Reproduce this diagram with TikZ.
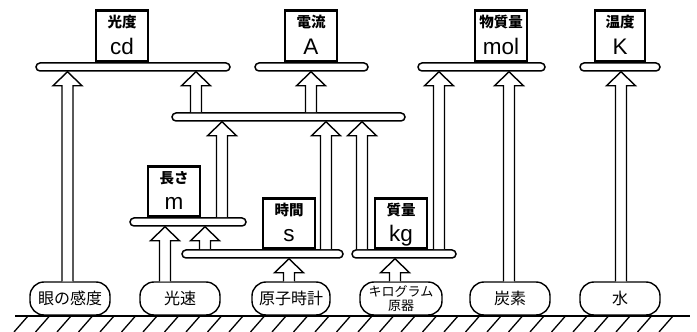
\documentclass[tikz,border=0pt]{standalone}
\usepackage{fontspec}
\setmainfont{Liberation Sans}
\newfontfamily\jp{Noto Sans CJK JP}
\usetikzlibrary{calc}
\tikzset{
  shelf/.style={draw, line width=1.5pt, fill=white, rectangle, rounded corners=4pt, minimum height=8pt, inner sep=0pt},
  unitbox/.style={draw, line width=2.8pt, fill=white, rectangle, minimum width=52pt, minimum height=51pt, inner sep=0pt, anchor=south},
  boxlabel/.style={font=\jp\bfseries\fontsize{14.5}{14.5}\selectfont, inner sep=0pt, anchor=base},
  unitlabel/.style={font=\fontsize{22.5}{22.5}\selectfont, inner sep=0pt, anchor=base},
  base/.style={draw, line width=1.4pt, fill=white, rectangle, rounded corners=14pt, minimum height=33pt, inner sep=0pt, font=\jp\fontsize{16}{16}\selectfont, align=center},
  harr/.style={draw, line width=1.4pt, fill=white, line join=miter},
  ground/.style={line width=1.8pt},
  hatch/.style={line width=1.3pt}
}
\newcommand\hup[3]{\draw[harr] let \p1=(#2.north), \p2=(#3.south) in
  (#1pt-5.5pt,\y1) -- (#1pt-5.5pt,\y2-14pt) -- (#1pt-14.5pt,\y2-14pt) -- (#1pt,\y2)
  -- (#1pt+14.5pt,\y2-14pt) -- (#1pt+5.5pt,\y2-14pt) -- (#1pt+5.5pt,\y1);}
\begin{document}
\begin{tikzpicture}[x=1pt,y=1pt]
\useasboundingbox (0,0) rectangle (697,332);
% ground
\draw[ground] (15,16) -- (690,16);
\foreach \k in {0,...,30} { \draw[hatch] (28+21.5*\k,16) -- (14+21.5*\k,0); }
% bottom bases
\node[base, minimum width=80pt] (eye) at (70,33.5) {眼の感度};
\node[base, minimum width=80pt] (light) at (180,33.5) {光速};
\node[base, minimum width=78pt] (atom) at (291,33.5) {原子時計};
\node[base, minimum width=82pt, font=\jp\fontsize{13}{14}\selectfont] (kgp) at (401,33.5) {キログラム\\原器};
\node[base, minimum width=80pt] (carbon) at (510,33.5) {炭素};
\node[base, minimum width=80pt] (water) at (620,33.5) {水};
% shelves
\node[shelf, minimum width=194pt] (Scd) at (133,265) {};
\node[shelf, minimum width=113pt] (SA) at (311.5,265) {};
\node[shelf, minimum width=127pt] (Smol) at (481.5,265) {};
\node[shelf, minimum width=80pt] (SK) at (620,265) {};
\node[shelf, minimum width=233pt] (Smid) at (288.5,215) {};
\node[shelf, minimum width=116pt] (Sm) at (188,110) {};
\node[shelf, minimum width=161pt] (Ss) at (262.5,78) {};
\node[shelf, minimum width=104pt] (Skg) at (404,78) {};
% unit boxes
\node[unitbox] (Bcd) at (122,269) {};
\node[unitbox] (BA) at (311,269) {};
\node[unitbox] (Bmol) at (501,269) {};
\node[unitbox, minimum width=50pt] (BK) at (620,269) {};
\node[unitbox, minimum height=50pt] (Bm) at (174,114) {};
\node[unitbox, minimum height=50pt] (Bs) at (289,82) {};
\node[unitbox, minimum height=50pt] (Bkg) at (401,82) {};
% labels
\foreach \b/\l/\u in {Bcd/光度/cd, BA/電流/A, Bmol/物質量/mol, BK/温度/K, Bm/長さ/m, Bs/時間/s, Bkg/質量/kg} {
  \node[boxlabel] (\b-l) at ([yshift=-18.5pt]\b.north) {\l};
  \node[unitlabel] (\b-u) at ([yshift=8pt]\b.south) {\u};
}
% arrows
\hup{67.5}{eye}{Scd}
\hup{196}{Smid}{Scd}
\hup{311}{Smid}{SA}
\hup{222}{Sm}{Smid}
\hup{326}{Ss}{Smid}
\hup{362}{Skg}{Smid}
\hup{439}{Skg}{Smol}
\hup{509}{carbon}{Smol}
\hup{621}{water}{SK}
\hup{165}{light}{Sm}
\hup{205}{Ss}{Sm}
\hup{289}{atom}{Ss}
\hup{395}{kgp}{Skg}
\end{tikzpicture}
\end{document}
